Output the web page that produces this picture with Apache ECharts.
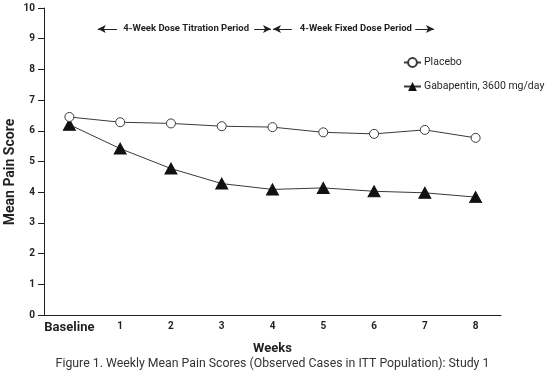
<!DOCTYPE html>
<html>
<head>
<meta charset="utf-8">
<script src="https://cdn.jsdelivr.net/npm/echarts@6/dist/echarts.min.js"></script>
<style>
  html, body { margin: 0; padding: 0; background: #fff; }
  #chart { width: 545px; height: 375px; }
</style>
</head>
<body>
<div id="chart"></div>
<script>
var weeks = ['Baseline', '1', '2', '3', '4', '5', '6', '7', '8'];
var placebo = [6.45, 6.28, 6.24, 6.15, 6.12, 5.95, 5.9, 6.03, 5.77];
var gabapentin = [6.2, 5.42, 4.77, 4.28, 4.09, 4.14, 4.03, 3.98, 3.84];
var yTicks = [0, 1, 2, 3, 4, 5, 6, 7, 8, 9, 10];

var narrow = "'Roboto', 'Liberation Sans', sans-serif";
var ink = '#231f20';

function pairs(values) {
    return values.map(function (v, i) { return [i, v]; });
}

// period arrows drawn in data space along the top
var periodY = 9.32;
var periodArrows = [
    [{ coord: [0.94, periodY] }, { coord: [0.56, periodY] }],
    [{ coord: [3.64, periodY] }, { coord: [3.97, periodY] }],
    [{ coord: [4.38, periodY] }, { coord: [4.01, periodY] }],
    [{ coord: [6.81, periodY] }, { coord: [7.18, periodY] }]
];
var periodLabels = [
    { name: '4-Week Dose Titration Period', coord: [2.30, periodY] },
    { name: '4-Week Fixed Dose Period', coord: [5.64, periodY] }
];

var option = {
    animation: false,
    textStyle: { fontFamily: narrow, color: ink },
    grid: { left: 44, right: 44, top: 8, bottom: 60, outerBoundsMode: 'none', containLabel: false },
    legend: {
        orient: 'vertical',
        left: 398,
        top: 52,
        width: 150,
        itemWidth: 17,
        itemHeight: 11,
        itemGap: 13,
        textStyle: { fontFamily: narrow, fontSize: 10.5, color: ink, padding: [0, 0, 0, -2], overflow: 'none' },
        data: ['Placebo', 'Gabapentin, 3600 mg/day']
    },
    xAxis: {
        type: 'value',
        min: -0.5,
        max: 8.5,
        name: 'Weeks',
        nameLocation: 'middle',
        nameGap: 27,
        nameTextStyle: { fontFamily: narrow, fontSize: 13, fontWeight: 'bold', color: ink },
        axisLine: { onZero: false, lineStyle: { color: ink, width: 1 } },
        axisTick: { show: false },
        splitLine: { show: false },
        axisLabel: {
            customValues: [0, 1, 2, 3, 4, 5, 6, 7, 8],
            margin: 6,
            formatter: function (v) {
                var s = weeks[Math.round(v)];
                return v === 0 ? '{b|' + s + '}' : s;
            },
            fontFamily: narrow,
            fontSize: 10,
            fontWeight: 'bold',
            color: ink,
            rich: {
                b: { fontFamily: narrow, fontSize: 13, fontWeight: 'bold', color: ink }
            }
        }
    },
    yAxis: {
        type: 'value',
        min: 0,
        max: 10,
        interval: 1,
        axisLine: { show: true, onZero: false, lineStyle: { color: ink, width: 1 } },
        axisTick: { show: true, length: 6, lineStyle: { color: ink } },
        splitLine: { show: false },
        axisLabel: {
            margin: 9,
            fontFamily: narrow,
            fontSize: 10,
            fontWeight: 'bold',
            color: ink,
            customValues: yTicks
        }
    },
    series: [
        {
            name: 'Placebo',
            type: 'line',
            data: pairs(placebo),
            symbol: 'circle',
            symbolSize: 9,
            lineStyle: { color: '#3a3a3a', width: 1 },
            itemStyle: { color: '#fff', borderColor: '#3a3a3a', borderWidth: 1 },
            z: 3
        },
        {
            name: 'Gabapentin, 3600 mg/day',
            type: 'line',
            data: pairs(gabapentin),
            symbol: 'triangle',
            symbolSize: [12, 11],
            lineStyle: { color: '#3a3a3a', width: 1 },
            itemStyle: { color: '#111', borderColor: '#111' },
            z: 2,
            markLine: {
                silent: true,
                symbol: ['none', 'arrow'],
                symbolSize: [6, 8],
                label: { show: false },
                lineStyle: { color: ink, width: 1, type: 'solid' },
                data: periodArrows
            },
            markPoint: {
                silent: true,
                symbol: 'circle',
                symbolSize: 0,
                label: {
                    show: true,
                    position: 'inside',
                    formatter: '{b}',
                    fontFamily: narrow,
                    fontSize: 9.5,
                    fontWeight: 'bold',
                    color: ink
                },
                data: periodLabels
            }
        }
    ],
    graphic: [
        {
            type: 'text',
            x: 10,
            y: 172,
            rotation: Math.PI / 2,
            style: {
                text: 'Mean Pain Score',
                font: 'bold 14px ' + narrow,
                fill: ink,
                align: 'center',
                verticalAlign: 'middle'
            }
        },
        {
            type: 'text',
            left: 'center',
            top: 358,
            style: {
                text: 'Figure 1. Weekly Mean Pain Scores (Observed Cases in ITT Population): Study 1',
                font: '12.3px ' + narrow,
                fill: '#333'
            }
        }
    ]
};

var chart = echarts.init(document.getElementById('chart'));
chart.setOption(option);
</script>
</body>
</html>
